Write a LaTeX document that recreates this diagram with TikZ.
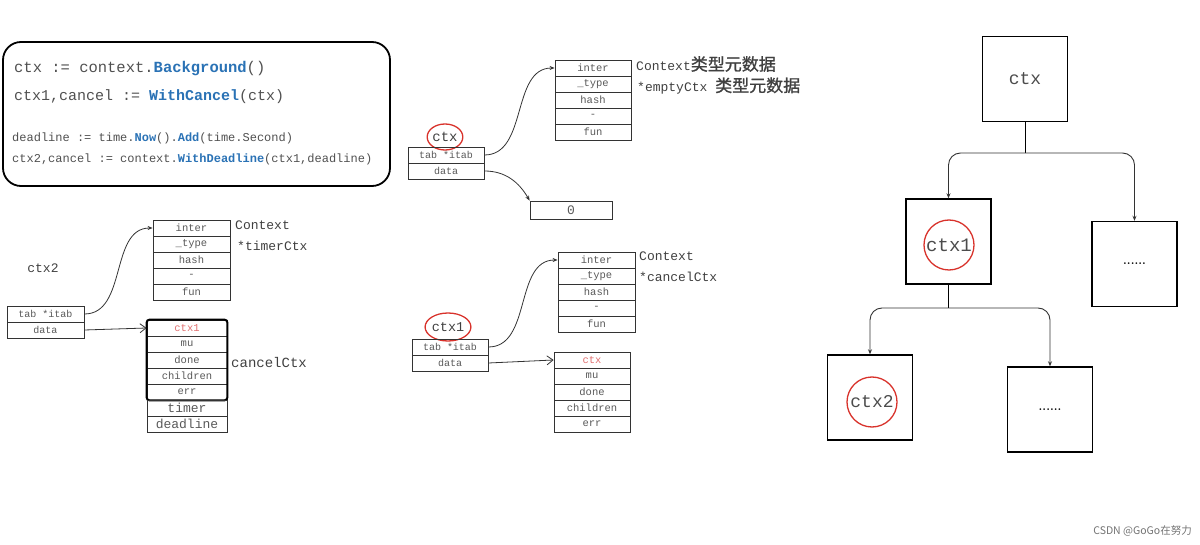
\documentclass[tikz,border=0pt]{standalone}
\usepackage{fontspec}
\setmonofont{Liberation Mono}
\newfontfamily\cjkfont{Noto Sans CJK SC}
\newfontfamily\cjkboldfont[FakeBold=1.2]{Noto Sans CJK SC}
\usetikzlibrary{arrows.meta,positioning,shapes.geometric}
\definecolor{codegray}{HTML}{505050}
\definecolor{codeblue}{HTML}{2A72B5}
\definecolor{ringred}{HTML}{D8322B}
\definecolor{pinkred}{HTML}{E07070}
\newcommand{\fn}[1]{\textcolor{codeblue}{\textbf{#1}}}
\newcommand{\cjk}[1]{{\cjkboldfont\fontsize{17}{17}\selectfont #1}}

\tikzset{
  code/.style={anchor=west, inner sep=0pt, text=codegray},
  cell/.style={draw=black!80, line width=0.8pt, minimum width=77pt, minimum height=16pt, inner sep=0pt,
    font=\ttfamily\fontsize{10.5}{10.5}\selectfont, text=black!65},
  bigcell/.style={cell, minimum width=80pt, font=\ttfamily\fontsize{13}{13}\selectfont},
  lbl/.style={anchor=west, inner sep=0pt, font=\ttfamily\fontsize{13}{13}\selectfont, text=black!75},
  ring/.style={draw=ringred, line width=1.3pt, ellipse, inner sep=0pt, text=black!75},
  treebox/.style={draw, line width=1.4pt, minimum width=85pt, minimum height=85pt, inner sep=0pt},
  treetxt/.style={font=\ttfamily\fontsize{18}{18}\selectfont, text=black!70},
  ptr/.style={-{Stealth[length=5pt,width=4pt]}, line width=0.8pt, black!80},
  barb/.style={-{Straight Barb[length=6pt,width=9pt]}, line width=0.8pt, black!80},
}

\begin{document}
\begin{tikzpicture}[x=1pt,y=1pt]
\useasboundingbox (0,0) rectangle (1200,544);

\draw[line width=1.8pt, rounded corners=18pt] (3,502) rectangle (390,358);
\node[code, font=\ttfamily\fontsize{15.5}{15.5}\selectfont] (l1) at (14,475) {ctx := context.\fn{Background}()};
\node[code, font=\ttfamily\fontsize{15}{15}\selectfont] (l2) at (14,447) {ctx1,cancel := \fn{WithCancel}(ctx)};
\node[code, font=\ttfamily\fontsize{12}{12}\selectfont] (l3) at (12,406) {deadline := time.\fn{Now}().\fn{Add}(time.Second)};
\node[code, font=\ttfamily\fontsize{12}{12}\selectfont] (l4) at (12,385) {ctx2,cancel := context.\fn{WithDeadline}(ctx1,deadline)};

% ctx2 -> timerCtx
\node[lbl, anchor=center] (ctx2lbl) at (43,276) {ctx2};
\node[cell, font=\ttfamily\fontsize{10}{10}\selectfont] (ln1) at (45.5,230) {tab *itab};
\node[cell, font=\ttfamily\fontsize{10}{10}\selectfont] (ln2) at (45.5,214) {data};
\foreach \t [count=\i] in {inter,\_type,hash,-,fun}
  \node[cell] (ti\i) at (191.5,332-16*\i) {\t};
\node[lbl] (tictx) at (235,319) {Context};
\node[lbl] (tiname) at (237,298) {*timerCtx};
\node[cell, minimum width=80pt, text=pinkred] (tc0) at (187,216) {ctx1};
\foreach \t [count=\i] in {mu,done,children,err}
  \node[cell, minimum width=80pt] (tc\i) at (187,216-16*\i) {\t};
\draw[line width=2pt, rounded corners=3pt] (tc0.north west) rectangle (tc4.south east);
\node[bigcell] (tt) at (187,136) {timer};
\node[bigcell] (td) at (187,120) {deadline};
\node[lbl, font=\ttfamily\fontsize{14}{14}\selectfont] (tcname) at (231,182) {cancelCtx};
\draw[ptr] (ln1.east) to[out=0,in=180] (ti1.west);
\draw[barb] (ln2.east) -- (tc0.west);

% ctx -> emptyCtx
\node[ring, minimum width=30pt, minimum height=26pt, font=\ttfamily\fontsize{14}{14}\selectfont] (cring) at (445,407) {ctx};
\node[cell, minimum width=76pt, font=\ttfamily\fontsize{10}{10}\selectfont] (cn1) at (446,389) {tab *itab};
\node[cell, minimum width=76pt, font=\ttfamily\fontsize{10}{10}\selectfont] (cn2) at (446,373) {data};
\foreach \t [count=\i] in {inter,\_type,hash,-,fun}
  \node[cell, minimum width=76pt] (ci\i) at (593,492-16*\i) {\t};
\node[lbl] (cimeta) at (636,480) {Context\cjk{类型元数据}};
\node[lbl] (ciname) at (637,458) {*emptyCtx \cjk{类型元数据}};
\node[cell, minimum width=82pt, minimum height=18pt, font=\ttfamily\fontsize{13}{13}\selectfont] (zero) at (571,334) {0};
\draw[ptr] (cn1.east) to[out=0,in=180] (ci1.west);
\draw[ptr] (cn2.east) to[out=0,in=120] (zero.north west);

% ctx1 -> cancelCtx
\node[ring, minimum width=32pt, minimum height=28pt, font=\ttfamily\fontsize{13.5}{13.5}\selectfont] (bring) at (448,217) {ctx1};
\node[cell, minimum width=76pt, font=\ttfamily\fontsize{10}{10}\selectfont] (bn1) at (450,197) {tab *itab};
\node[cell, minimum width=76pt, font=\ttfamily\fontsize{10}{10}\selectfont] (bn2) at (450,181) {data};
\foreach \t [count=\i] in {inter,\_type,hash,-,fun}
  \node[cell] (bi\i) at (596.5,300-16*\i) {\t};
\node[lbl] (bictx) at (639,288) {Context};
\node[lbl] (biname) at (639,267) {*cancelCtx};
\node[cell, minimum width=76pt, text=pinkred] (bc0) at (592,184) {ctx};
\foreach \t [count=\i] in {mu,done,children,err}
  \node[cell, minimum width=76pt] (bc\i) at (592,184-16*\i) {\t};
\draw[ptr] (bn1.east) to[out=0,in=180] (bi1.west);
\draw[barb] (bn2.east) -- (bc0.west);

% tree
\node[treebox, treetxt] (root) at (1025,465) {ctx};
\node[treebox] (n1) at (948.5,302.5) {};
\node[ring, circle, minimum size=50pt, treetxt, font=\ttfamily\fontsize{19}{19}\selectfont] (r1) at (949,299) {ctx1};
\node[treebox, font=\bfseries\fontsize{12}{12}\selectfont] (d1) at (1134.5,280) {......};
\node[treebox] (n2) at (870,146.5) {};
\node[ring, circle, minimum size=50pt, treetxt] (r2) at (872,142) {ctx2};
\node[treebox, font=\bfseries\fontsize{12}{12}\selectfont] (d2) at (1050,134.5) {......};
\coordinate (j1) at (1025,391);
\coordinate (j2) at (948.5,236);
\draw[line width=0.9pt] (root.south) -- (j1);
\draw[ptr, line width=0.9pt, rounded corners=12pt] (j1) -| (n1.north);
\draw[ptr, line width=0.9pt, rounded corners=12pt] (j1) -| (d1.north);
\draw[line width=0.9pt] (n1.south) -- (j2);
\draw[ptr, line width=0.9pt, rounded corners=12pt] (j2) -| (n2.north);
\draw[ptr, line width=0.9pt, rounded corners=12pt] (j2) -| (d2.north);

\node[anchor=east, inner sep=0pt, text=black!55, font=\cjkfont\fontsize{10.5}{10.5}\selectfont] (mark) at (1192,13) {CSDN @GoGo在努力};
\end{tikzpicture}
\end{document}
